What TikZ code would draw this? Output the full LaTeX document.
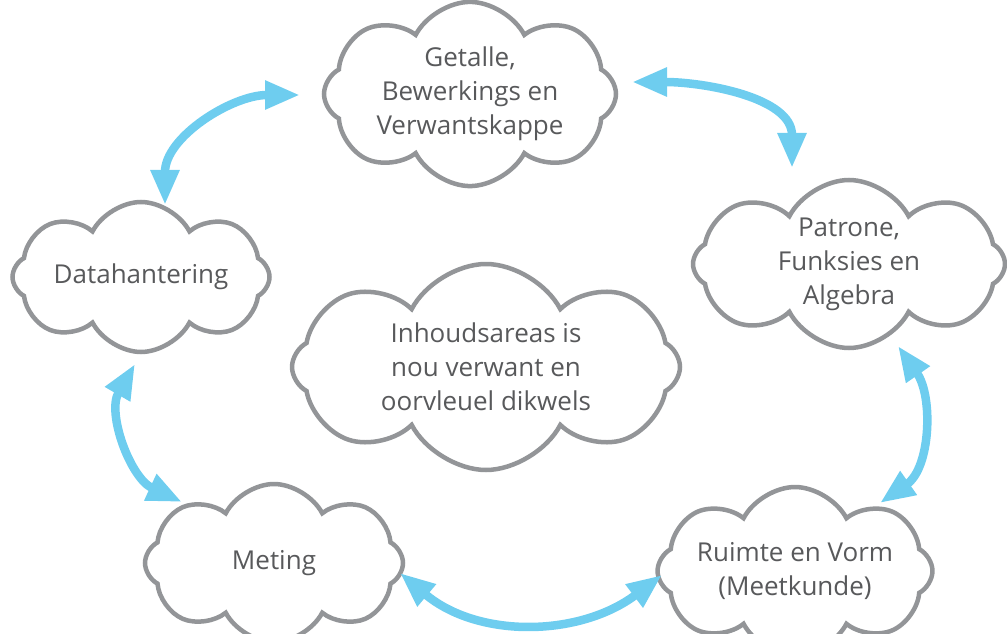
\documentclass[tikz,border=0pt]{standalone}
\usepackage{fontspec}
\setmainfont{Open Sans}
\usetikzlibrary{arrows.meta,shapes.symbols}
\definecolor{ink}{HTML}{58595B}
\definecolor{cloudline}{HTML}{939598}
\definecolor{linkblue}{HTML}{6ECDEF}
\tikzset{
  area/.style={cloud, cloud puffs=8, cloud puff arc=125, cloud ignores aspect, draw=cloudline, line width=4.5pt, fill=white, inner sep=0pt, align=center, text=ink, font=\fontsize{26}{34}\selectfont},
  link/.style={{Triangle[length=35pt,width=27pt]}-{Triangle[length=35pt,width=27pt]}, line width=8.5pt, draw=linkblue}
}
\begin{document}
\begin{tikzpicture}[x=1pt,y=1pt]
  \useasboundingbox (0,0) rectangle (1007,633);
  \node[area, minimum width=292pt, minimum height=162pt] (getalle) at (470,539) {Getalle,\\Bewerkings en\\Verwantskappe};
  \node[area, minimum width=312pt, minimum height=168pt] (patrone) at (849,369) {Patrone,\\Funksies en\\Algebra};
  \node[area, minimum width=257pt, minimum height=150pt] (data) at (141,356) {Datahantering};
  \node[area, minimum width=388pt, minimum height=206pt] (inhoud) at (486,266) {Inhoudsareas is\\nou verwant en\\oorvleuel dikwels};
  \node[area, minimum width=258pt, minimum height=158pt] (meting) at (274,70) {Meting};
  \node[area, minimum width=262pt, minimum height=168pt] (ruimte) at (795,62) {Ruimte en Vorm\\(Meetkunde)};

  \draw[link] ([shift={(24,72)}]data.center) to[out=90,in=180] ([shift={(-170,-1)}]getalle.center);
  \draw[link] ([shift={(162,12)}]getalle.center) to[out=0,in=90] ([shift={(-57,96)}]patrone.center);
  \draw[link] ([shift={(49,-82)}]patrone.center) to[out=-55,in=35] ([shift={(85,68)}]ruimte.center);
  \draw[link] ([shift={(126,-10)}]meting.center) to[out=-40,in=217] ([shift={(-133,-4)}]ruimte.center);
  \draw[link] ([shift={(-6,-87)}]data.center) to[out=240,in=155] ([shift={(-92,61)}]meting.center);
\end{tikzpicture}
\end{document}
